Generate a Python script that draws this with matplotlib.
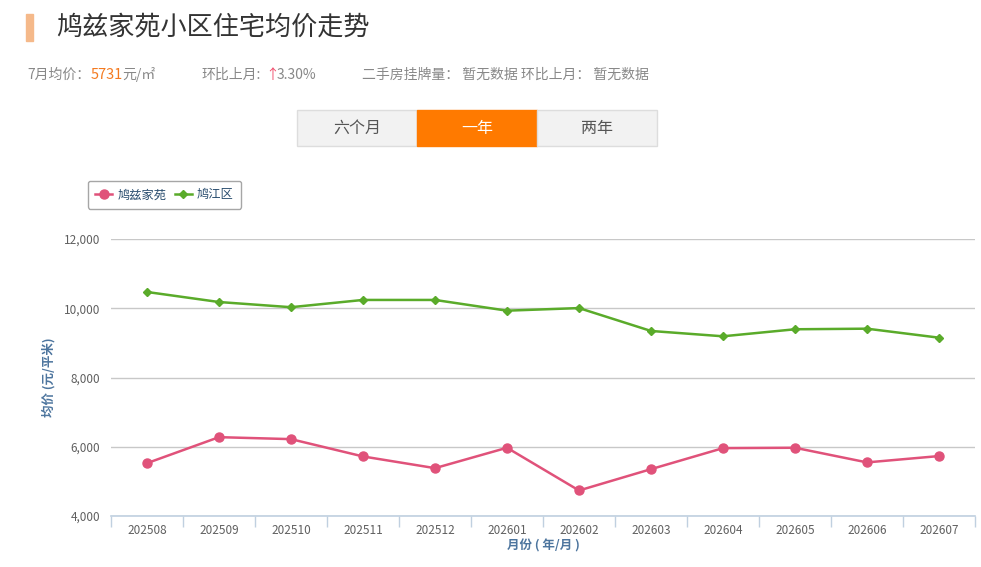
import matplotlib
matplotlib.use("Agg")
import matplotlib.pyplot as plt
from matplotlib.patches import Rectangle

plt.rcParams['font.family'] = ['Noto Sans CJK SC', 'DejaVu Sans']

months = ["202508", "202509", "202510", "202511", "202512", "202601",
          "202602", "202603", "202604", "202605", "202606", "202607"]
community = [5526, 6277, 6220, 5720, 5382, 5971, 4737, 5353, 5960, 5971, 5548, 5731]
district = [10470, 10180, 10030, 10240, 10240, 9930, 10005, 9344, 9190, 9393, 9410, 9150]
yticks = [4000, 6000, 8000, 10000, 12000]
series_names = ["鸠兹家苑", "鸠江区"]

W, H = 981, 567
fig = plt.figure(figsize=(W / 100, H / 100), dpi=100)

def fx(px):
    return px / W

def fy(py):
    return 1 - py / H

RED = '#e0527a'
GREEN = '#5aab2a'
GRAY = '#888888'

ax = fig.add_axes([fx(111), fy(516), fx(975) - fx(111), fy(239) - fy(516)])
x = list(range(len(months)))
ax.plot(x, community, color=RED, lw=1.8, marker='o', ms=6.5, label=series_names[0], zorder=3)
ax.plot(x, district, color=GREEN, lw=1.8, marker='D', ms=4.5, label=series_names[1], zorder=3)

ax.set_xlim(-0.5, len(months) - 0.5)
ax.set_ylim(4000, 12000)
ax.set_yticks(yticks)
ax.set_yticklabels([f"{v:,}" for v in yticks])
ax.set_xticks(x)
ax.set_xticklabels(months)
ax.tick_params(axis='x', length=0, labelsize=8.5, labelcolor='#606060', pad=6)
ax.set_xticks([i - 0.5 for i in range(len(months) + 1)], minor=True)
ax.tick_params(axis='x', which='minor', length=8, color='#c0d0e0', width=1)
ax.tick_params(axis='y', length=0, labelsize=8.5, labelcolor='#606060', pad=8)
ax.grid(axis='y', color='#c8c8c8', lw=1)
ax.set_axisbelow(True)
for s in ['top', 'right', 'left']:
    ax.spines[s].set_visible(False)
ax.spines['bottom'].set_color('#c0d0e0')
ax.spines['bottom'].set_linewidth(1.2)

ax.set_xlabel("月份 ( 年/月 )", color='#4d759e', fontsize=9, fontweight='bold')
ax.xaxis.set_label_coords(0.5, -(546 - 516) / (516 - 239))
ax.set_ylabel("均价 (元/平米)", color='#4d759e', fontsize=9, fontweight='bold')
ax.yaxis.set_label_coords(-(111 - 49) / (975 - 111), 0.5)
ax.xaxis.label.set_va('center')
ax.yaxis.label.set_va('center')

# legend
leg = fig.legend(loc='upper left', bbox_to_anchor=(fx(88), fy(181)), ncol=2,
                 frameon=True, fancybox=True, edgecolor='#909090', fontsize=8.8,
                 handlelength=1.4, columnspacing=0.7, handletextpad=0.4,
                 borderpad=0.6, borderaxespad=0)
leg.get_frame().set_linewidth(1)
for t in leg.get_texts():
    t.set_color('#274b6d')

# header
fig.patches.append(Rectangle((fx(26), fy(41)), fx(33) - fx(26), fy(14) - fy(41),
                             transform=fig.transFigure, color='#f5b98a'))
fig.text(fx(56), fy(27), "鸠兹家苑小区住宅均价走势", fontsize=18.8, color='#333333', va='center', ha='left')

ty = fy(75)
fig.text(fx(27), ty, "7月均价：", fontsize=10, color=GRAY, va='center')
fig.text(fx(91), ty, "5731", fontsize=10.5, color='#f47a20', va='center')
fig.text(fx(122), ty, "元/㎡", fontsize=10, color=GRAY, va='center')
fig.text(fx(201), ty, "环比上月:", fontsize=10, color=GRAY, va='center')
fig.text(fx(265), ty, "↑", fontsize=10, color='#f0506e', va='center')
fig.text(fx(277), ty, "3.30%", fontsize=10, color=GRAY, va='center')
fig.text(fx(362), ty, "二手房挂牌量： 暂无数据 环比上月： 暂无数据", fontsize=10, color=GRAY, va='center')

# buttons
labels = ["六个月", "一年", "两年"]
for i, lab in enumerate(labels):
    x0 = 297 + 120 * i
    active = (i == 1)
    fig.patches.append(Rectangle((fx(x0), fy(146)), fx(120), fy(110) - fy(146),
                                 transform=fig.transFigure,
                                 facecolor='#ff7a00' if active else '#f2f2f2',
                                 edgecolor='#ff7a00' if active else '#dddddd', lw=1))
    fig.text(fx(x0 + 60), fy(128), lab, fontsize=11.5, color='white' if active else '#555555',
             ha='center', va='center')

fig.savefig("out.png", dpi=100, facecolor='white')
